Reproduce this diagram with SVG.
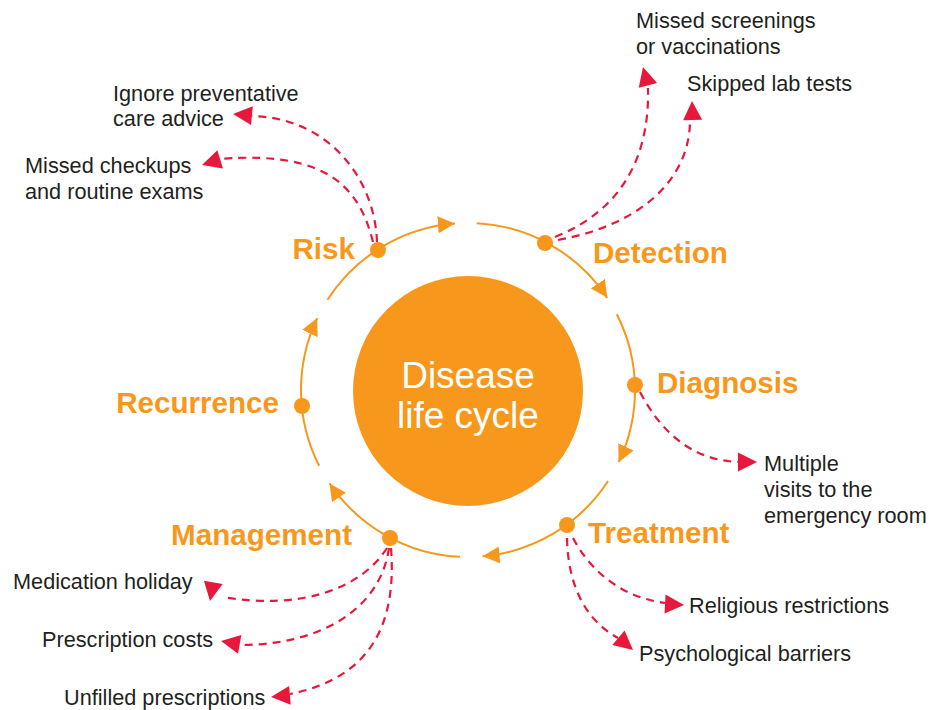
<svg xmlns="http://www.w3.org/2000/svg" xmlns:xlink="http://www.w3.org/1999/xlink" width="929" height="710" viewBox="0 0 929 710">
<style>
.ring{fill:none;stroke:#F7981D;stroke-width:2;marker-end:url(#oa)}
.dot{fill:#F7981D}
.lbl{font-family:"Liberation Sans",Arial,Helvetica,sans-serif;font-weight:bold;font-size:29.6px;fill:#F7981D}
.txt{font-family:"Liberation Sans",Arial,Helvetica,sans-serif;font-size:21.7px;fill:#231F20}
.ctr{font-family:"Liberation Sans",Arial,Helvetica,sans-serif;font-size:37px;fill:#FFFFFF}
.dash{fill:none;stroke:#E8173C;stroke-width:2.2;stroke-dasharray:8 6}
.rh{fill:#E8173C}
</style>
<defs>
<marker id="oa" markerUnits="userSpaceOnUse" viewBox="0 0 17 17" markerWidth="17" markerHeight="17" refX="17" refY="8.5" orient="auto">
<path d="M0,0 L17,8.5 L0,17 z" fill="#F7981D"/>
</marker>
<path id="rhead" d="M0,0 L-19,-9.5 L-19,9.5 z"/>
</defs>
<rect width="929" height="710" fill="#FFFFFF"/>
<g id="center">
<circle cx="468" cy="391" r="115" fill="#F7981D"/>
<text class="ctr" x="468" y="388" text-anchor="middle">Disease</text>
<text class="ctr" x="468" y="428" text-anchor="middle">life cycle</text>
</g>
<g id="connectors">
<path class="ring" d="M476.74,223.23 A167,167 0 0 1 607.26,297.83"/>
<path class="ring" d="M616.80,314.18 A167,167 0 0 1 618.61,462.16"/>
<path class="ring" d="M608.06,480.96 A167,167 0 0 1 482.56,556.36"/>
<path class="ring" d="M460.13,556.81 A167,167 0 0 1 329.55,483.38"/>
<path class="ring" d="M319.20,465.82 A167,167 0 0 1 317.27,318.10"/>
<path class="ring" d="M327.47,299.78 A167,167 0 0 1 454.90,223.51"/>
<path class="dash" d="M377,242 C375,180 330,118 252,116"/>
<path class="dash" d="M373,242 C360,190 330,150 220,159"/>
<path class="dash" d="M555,237 C610,215 650,170 648,88"/>
<path class="dash" d="M558,240 C640,225 690,180 690,120"/>
<path class="dash" d="M640,392 C660,430 690,460 738,462"/>
<path class="dash" d="M573,538 C590,570 620,597 665,603"/>
<path class="dash" d="M567,538 C568,585 585,620 618,638"/>
<path class="dash" d="M387,548 C360,590 300,610 222,597"/>
<path class="dash" d="M389,548 C380,610 320,645 240,645"/>
<path class="dash" d="M391,548 C397,625 370,678 290,694"/>
<use xlink:href="#rhead" class="rh" transform="translate(233,114) rotate(185)"/>
<use xlink:href="#rhead" class="rh" transform="translate(202,165) rotate(163)"/>
<use xlink:href="#rhead" class="rh" transform="translate(643,67) rotate(-105)"/>
<use xlink:href="#rhead" class="rh" transform="translate(692,101) rotate(-92)"/>
<use xlink:href="#rhead" class="rh" transform="translate(757,462) rotate(0)"/>
<use xlink:href="#rhead" class="rh" transform="translate(684,605) rotate(3)"/>
<use xlink:href="#rhead" class="rh" transform="translate(633,650) rotate(40)"/>
<use xlink:href="#rhead" class="rh" transform="translate(210,601) rotate(100)"/>
<use xlink:href="#rhead" class="rh" transform="translate(221,641) rotate(190)"/>
<use xlink:href="#rhead" class="rh" transform="translate(271,697) rotate(175)"/>
</g>
<g id="risk">
<circle class="dot" cx="378" cy="250" r="8"/>
<text class="lbl" x="355" y="259" text-anchor="end">Risk</text>
</g>
<g id="detection">
<circle class="dot" cx="545" cy="243" r="8"/>
<text class="lbl" x="593" y="263">Detection</text>
</g>
<g id="diagnosis">
<circle class="dot" cx="635" cy="385" r="8"/>
<text class="lbl" x="657" y="393">Diagnosis</text>
</g>
<g id="treatment">
<circle class="dot" cx="567" cy="525" r="8"/>
<text class="lbl" x="588" y="543">Treatment</text>
</g>
<g id="management">
<circle class="dot" cx="390" cy="538" r="8"/>
<text class="lbl" x="352" y="545" text-anchor="end">Management</text>
</g>
<g id="recurrence">
<circle class="dot" cx="302" cy="406" r="8"/>
<text class="lbl" x="279" y="413" text-anchor="end">Recurrence</text>
</g>
<g id="ignore-preventative">
<text class="txt" x="113" y="101">Ignore preventative</text>
<text class="txt" x="113" y="126">care advice</text>
</g>
<g id="missed-checkups">
<text class="txt" x="25" y="173">Missed checkups</text>
<text class="txt" x="25" y="199">and routine exams</text>
</g>
<g id="missed-screenings">
<text class="txt" x="636" y="28">Missed screenings</text>
<text class="txt" x="636" y="54">or vaccinations</text>
</g>
<g id="skipped-lab">
<text class="txt" x="687" y="91">Skipped lab tests</text>
</g>
<g id="multiple-visits">
<text class="txt" x="764" y="471">Multiple</text>
<text class="txt" x="764" y="497">visits to the</text>
<text class="txt" x="764" y="523">emergency room</text>
</g>
<g id="religious">
<text class="txt" x="689" y="613">Religious restrictions</text>
</g>
<g id="psychological">
<text class="txt" x="639" y="661">Psychological barriers</text>
</g>
<g id="medication-holiday">
<text class="txt" x="13" y="589">Medication holiday</text>
</g>
<g id="prescription-costs">
<text class="txt" x="42" y="647">Prescription costs</text>
</g>
<g id="unfilled">
<text class="txt" x="64" y="705">Unfilled prescriptions</text>
</g>
</svg>
